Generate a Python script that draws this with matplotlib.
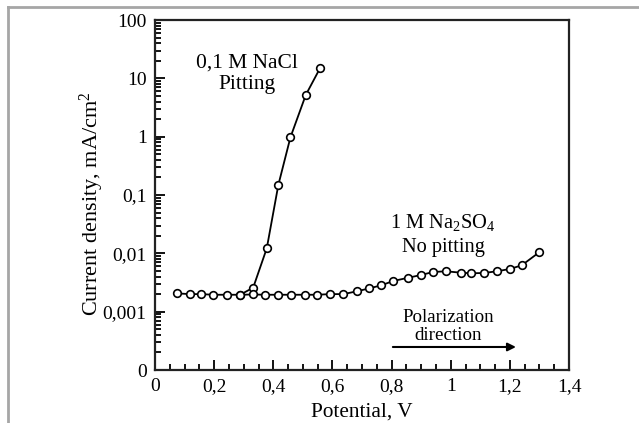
import numpy as np
import matplotlib
matplotlib.use("Agg")
import matplotlib.pyplot as plt
from matplotlib.lines import Line2D
from matplotlib.ticker import FixedLocator, LogLocator, MultipleLocator, NullFormatter

plt.rcParams['font.family'] = ['Liberation Serif', 'DejaVu Serif']
plt.rcParams['mathtext.fontset'] = 'custom'
plt.rcParams['mathtext.rm'] = 'Liberation Serif'
plt.rcParams['mathtext.it'] = 'Liberation Serif:italic'

# 1 M Na2SO4 (no pitting)
sulfate_v = [0.073, 0.118, 0.155, 0.197, 0.245, 0.288, 0.332, 0.373, 0.415, 0.460,
             0.506, 0.549, 0.592, 0.637, 0.682, 0.725, 0.765, 0.806, 0.857, 0.899,
             0.941, 0.983, 1.035, 1.068, 1.111, 1.156, 1.199, 1.240, 1.299]
sulfate_i = [0.00206, 0.00200, 0.00200, 0.00195, 0.00195, 0.00195, 0.00197, 0.00195, 0.00195, 0.00195,
             0.00195, 0.00195, 0.00200, 0.00200, 0.00223, 0.00251, 0.00283, 0.00336, 0.00382, 0.00425,
             0.00479, 0.00492, 0.00466, 0.00455, 0.00460, 0.00492, 0.00538, 0.00622, 0.0104]

# 0.1 M NaCl (pitting)
chloride_v = [0.288, 0.332, 0.378, 0.417, 0.458, 0.510, 0.558]
chloride_i = [0.00195, 0.00258, 0.0122, 0.148, 0.975, 5.2, 14.9]

ytick_vals = [1e-4, 1e-3, 1e-2, 1e-1, 1, 10, 100]
ytick_labels = ['0', '0,001', '0,01', '0,1', '1', '10', '100']
xtick_vals = [0, 0.2, 0.4, 0.6, 0.8, 1.0, 1.2, 1.4]
xtick_labels = ['0', '0,2', '0,4', '0,6', '0,8', '1', '1,2', '1,4']

fig = plt.figure(figsize=(6.39, 4.23), dpi=100)
ax = fig.add_axes([155 / 639, 53 / 423, 414 / 639, 350 / 423])

# grey frame lines on top and left of the picture
fig.add_artist(Line2D([8 / 639, 1.0], [1 - 7 / 423, 1 - 7 / 423], color='#a6a6a6', lw=2))
fig.add_artist(Line2D([8 / 639, 8 / 639], [0.0, 1 - 7 / 423], color='#a6a6a6', lw=2))

mk = dict(marker='o', ms=5.5, mfc='white', mec='black', mew=1.2, color='black', lw=1.3)
ax.plot(chloride_v, chloride_i, **mk)
ax.plot(sulfate_v, sulfate_i, **mk)

ax.set_yscale('log')
ax.set_xlim(0, 1.4)
ax.set_ylim(1e-4, 100)

ax.yaxis.set_major_locator(FixedLocator(ytick_vals))
ax.set_yticklabels(ytick_labels)
ax.yaxis.set_minor_locator(LogLocator(base=10, subs=np.arange(2, 10), numticks=20))
ax.yaxis.set_minor_formatter(NullFormatter())
ax.xaxis.set_major_locator(FixedLocator(xtick_vals))
ax.set_xticklabels(xtick_labels)
ax.xaxis.set_minor_locator(MultipleLocator(0.05))

ax.tick_params(which='both', direction='in', top=False, right=False, width=1.3, labelsize=14)
ax.tick_params(which='major', length=7, pad=6)
ax.tick_params(which='minor', length=4)
for s in ax.spines.values():
    s.set_linewidth(1.6)
    s.set_color('#222222')

ax.set_xlabel('Potential, V', fontsize=15.3, labelpad=5)
ax.set_ylabel('Current density, mA/cm$^2$', fontsize=16)
ax.yaxis.set_label_coords(-0.118, 0.474)

ax.text(0.311, 11.9, '0,1 M NaCl\nPitting', ha='center', va='center', fontsize=15.5,
        linespacing=1.2)
ax.text(0.974, 0.021, '1 M Na$_2$SO$_4$\nNo pitting', ha='center', va='center', fontsize=14.7,
        linespacing=1.4)
ax.text(0.991, 0.00056, 'Polarization\ndirection', ha='center', va='center', fontsize=13.7,
        linespacing=1.08)
ax.annotate('', xy=(1.23, 0.000248), xytext=(0.795, 0.000248),
            arrowprops=dict(arrowstyle='-|>', color='black', lw=1.5, mutation_scale=12))

fig.savefig('out.png', dpi=100)
